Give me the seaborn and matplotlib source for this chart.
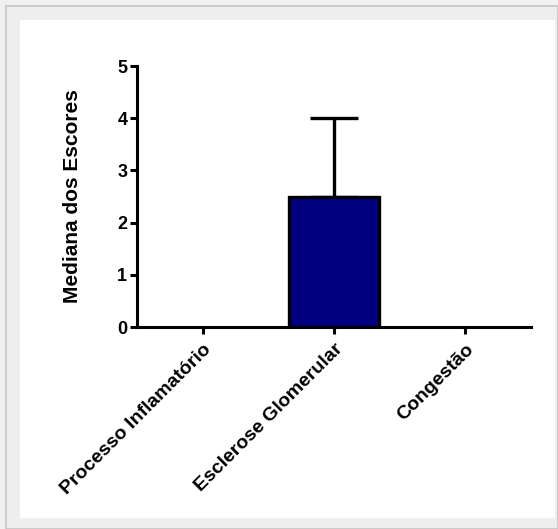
import numpy as np
import pandas as pd
import matplotlib
matplotlib.use("Agg")
import matplotlib.pyplot as plt
from matplotlib.patches import Rectangle
import seaborn as sns

# --- data ---
categories = ["Processo Inflamatório", "Esclerose Glomerular", "Congestão"]
medians = [0, 2.5, 0]
upper = [0, 4, 0]
y_ticks = [0, 1, 2, 3, 4, 5]

df = pd.DataFrame({"grupo": categories, "mediana": medians})

sns.set_style("ticks")
plt.rcParams["font.family"] = ["Liberation Sans", "DejaVu Sans"]
plt.rcParams["font.weight"] = "bold"
plt.rcParams["text.color"] = "black"
plt.rcParams["axes.labelcolor"] = "black"
plt.rcParams["xtick.color"] = "black"
plt.rcParams["ytick.color"] = "black"
plt.rcParams["axes.edgecolor"] = "black"

W, H = 558, 529
fig = plt.figure(figsize=(W / 100, H / 100), dpi=100)
fig.patch.set_facecolor("#f0f0f0")

# frame like the screenshot: grey outer band and white panel (behind the axes)
fig.patches.append(Rectangle((6 / W, 0), 1 - 6 / W, 1 - 6 / H, transform=fig.transFigure,
                             facecolor="#eeeeee", edgecolor="#c4c4c4", linewidth=1.2, zorder=-10))
fig.patches.append(Rectangle((20 / W, 1 - 518 / H), (555 - 20) / W, (518 - 20) / H,
                             transform=fig.transFigure, facecolor="white", edgecolor="none", zorder=-9))

ax = fig.add_axes([137 / W, 1 - 327 / H, (531 - 137) / W, (327 - 66) / H])
ax.patch.set_alpha(0)

sns.barplot(data=df, x="grupo", y="mediana", color="#000080", saturation=1, width=0.69,
            edgecolor="black", linewidth=2.4, errorbar=None, ax=ax, zorder=3)
# zero-height bars leave no outline in the original
for p in ax.patches:
    if p.get_height() == 0:
        p.set_visible(False)

# only the upper error bar is drawn
err_up = [u - m for u, m in zip(upper, medians)]
idx = [i for i, e in enumerate(err_up) if e > 0]
ax.errorbar(idx, [medians[i] for i in idx],
            yerr=[[0] * len(idx), [err_up[i] for i in idx]],
            fmt="none", ecolor="black", elinewidth=2.4, capsize=17, capthick=2.4, zorder=2)

ax.set_xlim(-0.5, 2.5)
ax.set_ylim(0, 5)
ax.set_yticks(y_ticks)
ax.set_xlabel("")
ax.set_ylabel("Mediana dos Escores", fontsize=15, fontweight="bold", labelpad=25)

for side in ["top", "right"]:
    ax.spines[side].set_visible(False)
for side in ["left", "bottom"]:
    ax.spines[side].set_linewidth(2.2)
ax.tick_params(axis="both", width=2.2, length=5, direction="out")
ax.tick_params(axis="y", labelsize=13, pad=2)
ax.tick_params(axis="x", labelsize=14, pad=5)
for lab in ax.get_yticklabels():
    lab.set_fontweight("bold")
for lab in ax.get_xticklabels():
    lab.set_fontweight("bold")
    lab.set_rotation(45)
    lab.set_ha("right")
    lab.set_rotation_mode("anchor")

fig.savefig("out.png", dpi=100, facecolor=fig.get_facecolor())
